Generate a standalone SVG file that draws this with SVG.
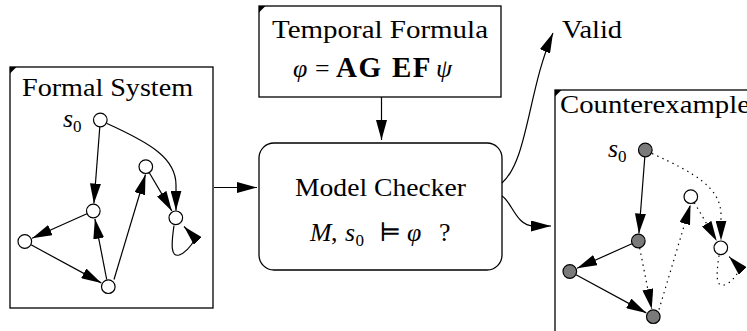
<svg xmlns="http://www.w3.org/2000/svg" width="747" height="331" viewBox="0 0 747 331">
<style>
.box{fill:#fff;stroke:#000;stroke-width:1.3}
.corner{fill:#000;stroke:none}
.t{font-family:"Liberation Serif","DejaVu Serif",serif;font-size:25.8px;fill:#000}
.it{font-style:italic}
.b{font-weight:bold;font-size:29px;letter-spacing:1.5px}
.sub{font-size:17px;font-style:normal}
.edge{fill:none;stroke:#000;stroke-width:1.2;marker-end:url(#arr)}
.dot{stroke-dasharray:1.4 4.2}
.node{fill:#fff;stroke:#000;stroke-width:1.2}
.gray{fill:#7a7a7a}
</style>
<defs>
<marker id="arr" viewBox="0 0 20 11" refX="20" refY="5.5" markerWidth="20" markerHeight="11" markerUnits="userSpaceOnUse" orient="auto">
<path d="M0,0 L20,5.5 L0,11 Z" fill="#000"/>
</marker>
</defs>
<rect width="747" height="331" fill="#fff"/>

<g id="formal-system">
<rect class="box" x="10" y="67" width="203" height="241"/>
<polygon class="corner" points="10,67 16.5,67 10,73.5"/>
<text class="t" x="22" y="96" textLength="171" lengthAdjust="spacingAndGlyphs">Formal System</text>
<text class="t it" x="63" y="127">s<tspan class="sub" dy="4.5">0</tspan></text>
</g>

<g id="temporal-formula">
<rect class="box" x="259" y="6" width="242" height="91"/>
<polygon class="corner" points="259,6 265.5,6 259,12.5"/>
<text class="t" x="272" y="37.5" textLength="216" lengthAdjust="spacingAndGlyphs">Temporal Formula</text>
<text class="t" y="77"><tspan class="it" x="293">φ</tspan><tspan x="315">=</tspan><tspan class="b" x="336">AG</tspan><tspan class="b" x="392">EF</tspan><tspan class="it" x="436">ψ</tspan></text>
</g>

<g id="model-checker">
<rect class="box" x="259" y="143" width="243" height="127" rx="15" ry="15"/>
<text class="t" x="295" y="196" textLength="171" lengthAdjust="spacingAndGlyphs">Model Checker</text>
<text class="t" y="241"><tspan class="it" x="310">M</tspan><tspan x="331">,</tspan><tspan class="it" x="345">s</tspan><tspan class="sub" x="355.5" dy="4.5">0</tspan><tspan x="379" dy="-4.5">⊨</tspan><tspan class="it" x="407">φ</tspan><tspan x="439">?</tspan></text>
</g>

<g id="valid">
<text class="t" x="562" y="37.5" textLength="60" lengthAdjust="spacingAndGlyphs">Valid</text>
</g>

<g id="counterexample">
<rect class="box" x="555" y="90" width="220" height="260"/>
<polygon class="corner" points="555,90 561.5,90 555,96.5"/>
<text class="t" x="560" y="113" textLength="190" lengthAdjust="spacingAndGlyphs">Counterexample</text>
<text class="t it" x="608" y="157">s<tspan class="sub" dy="4.5">0</tspan></text>
</g>

<g id="connectors">
<path class="edge" d="M214,187.5 L257,187.5"/>
<path class="edge" d="M381.5,97 L381.5,140"/>
<path class="edge" d="M502,183 C528,160 528,90 553,33"/>
<path class="edge" d="M502,196 C512,202 516,226 534,226 L551,226"/>
<g id="formal-edges">
<path class="edge" d="M99.8,127 L93.9,203.5"/>
<path class="edge" d="M86.9,213.8 L32.1,238.2"/>
<path class="edge" d="M31,244.8 L101.3,282.9"/>
<path class="edge" d="M106.7,279.5 L94.9,218.8"/>
<path class="edge" d="M114,279.5 L145.5,174.5"/>
<path class="edge" d="M149.3,172.7 L171.8,210.9"/>
<path class="edge" d="M107,123.5 C150,143 176,158 176,185 L176,210.5"/>
<path class="edge" d="M174,225.5 C171,246 171,257 179,255 C186,253 191,246 195.5,238.5 L184,226.5"/>
</g>
<g id="counter-edges" transform="translate(545,30)">
<path class="edge" d="M99.8,127 L93.9,203.5"/>
<path class="edge" d="M86.9,213.8 L32.1,238.2"/>
<path class="edge" d="M31,244.8 L101.3,282.9"/>
<path class="edge dot" d="M94.7,218 L106.7,279"/>
<path class="edge dot" d="M114,279.5 L145.5,174.5"/>
<path class="edge dot" d="M149.3,172.7 L171.8,210.9"/>
<path class="edge dot" d="M107,123.5 C150,143 176,158 176,185 L176,210.5"/>
<path class="edge dot" d="M174,225.5 C171,246 171,257 179,255 C186,253 191,246 195.5,238.5 L184,226.5"/>
</g>
</g>

<g id="fs-s0"><circle class="node" cx="100.3" cy="120" r="6.8"/></g>
<g id="fs-a"><circle class="node" cx="93.3" cy="211" r="6.8"/></g>
<g id="fs-b"><circle class="node" cx="24.8" cy="241.5" r="6.8"/></g>
<g id="fs-c"><circle class="node" cx="108.3" cy="286.7" r="6.8"/></g>
<g id="fs-d"><circle class="node" cx="145.8" cy="166.7" r="6.8"/></g>
<g id="fs-e"><circle class="node" cx="175.8" cy="217.8" r="6.8"/></g>

<g id="ce-s0"><circle class="node gray" cx="645.3" cy="150" r="6.8"/></g>
<g id="ce-a"><circle class="node gray" cx="638.3" cy="241" r="6.8"/></g>
<g id="ce-b"><circle class="node gray" cx="569.8" cy="271.5" r="6.8"/></g>
<g id="ce-c"><circle class="node gray" cx="653.3" cy="316.7" r="6.8"/></g>
<g id="ce-d"><circle class="node" cx="690.8" cy="196.7" r="6.8"/></g>
<g id="ce-e"><circle class="node" cx="720.8" cy="247.8" r="6.8"/></g>
</svg>
